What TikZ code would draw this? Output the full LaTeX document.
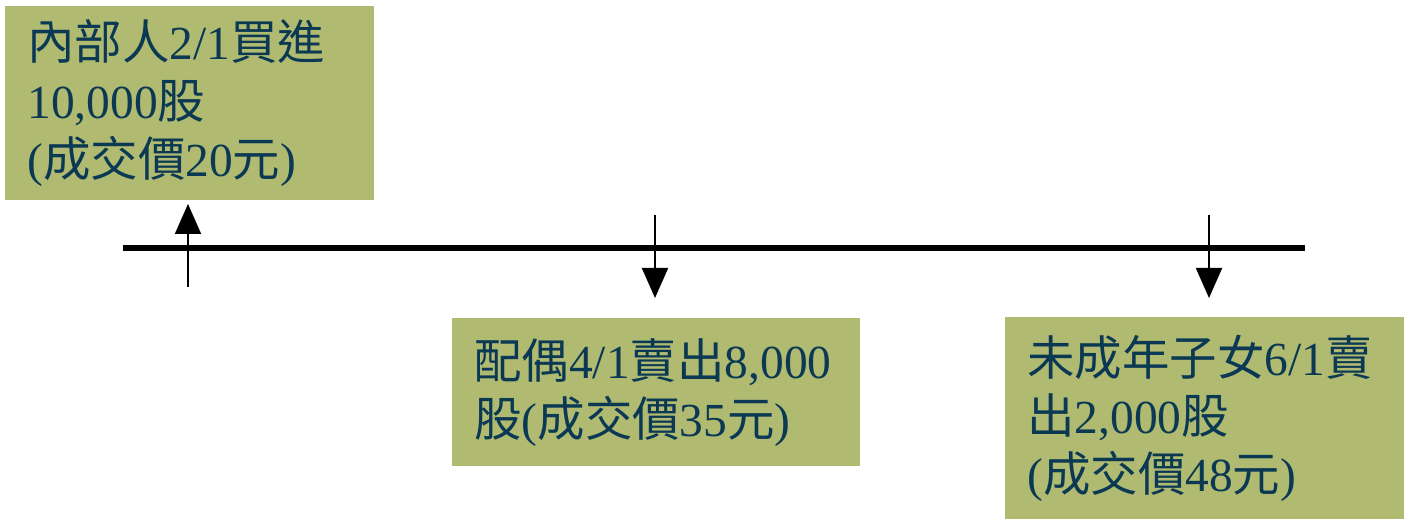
\documentclass[tikz,border=0pt]{standalone}
\usepackage{fontspec}
\setmainfont{Liberation Serif}
\newfontfamily\cjk{Noto Sans CJK TC}
\newcommand{\zh}[1]{{\cjk #1}}
\usetikzlibrary{arrows.meta}
\definecolor{boxgreen}{RGB}{176,186,112}
\definecolor{textblue}{RGB}{11,57,84}

\begin{document}
\begin{tikzpicture}
    [
    x = 0.02cm, y = -0.02cm,
    every node/.style = {font = \fontsize{27}{33.2}\selectfont},
    ]
    \tikzstyle{event box}=[rectangle,fill=boxgreen,text=textblue,anchor=north west,align=left,inner xsep=0.44cm,inner ysep=0pt]
    \tikzstyle{time line}=[line width=0.11cm,black]
    \tikzstyle{trade arrow}=[line width=0.04cm,-{Triangle[length=0.6cm,width=0.52cm]}]

    \useasboundingbox (0,0) rectangle (1404,519);

    % boxes
    \node[event box, text width=6.5cm, minimum height=3.88cm] (buy) at (5,6)
        {\zh{內部人}2/1\zh{買進}\\10,000\zh{股}\\(\zh{成交價}20\zh{元})};
    \node[event box, text width=7.28cm, minimum height=2.96cm] (spouse) at (452,318)
        {\zh{配偶}4/1\zh{賣出}8,000\\\zh{股}(\zh{成交價}35\zh{元})};
    \node[event box, text width=7.1cm, minimum height=4.04cm] (minor) at (1005,317)
        {\zh{未成年子女}6/1\zh{賣}\\\zh{出}2,000\zh{股}\\(\zh{成交價}48\zh{元})};

    % time line
    \coordinate (start) at (123,248);
    \coordinate (end) at (1305,248);
    \draw[time line] (start) -- (end);

    % arrows
    \coordinate (b1) at (188,287);
    \coordinate (b2) at (188,204);
    \coordinate (s1) at (655,215);
    \coordinate (s2) at (655,298);
    \coordinate (m1) at (1209,215);
    \coordinate (m2) at (1209,298);
    \draw[trade arrow] (b1) -- (b2);
    \draw[trade arrow] (s1) -- (s2);
    \draw[trade arrow] (m1) -- (m2);
\end{tikzpicture}
\end{document}
